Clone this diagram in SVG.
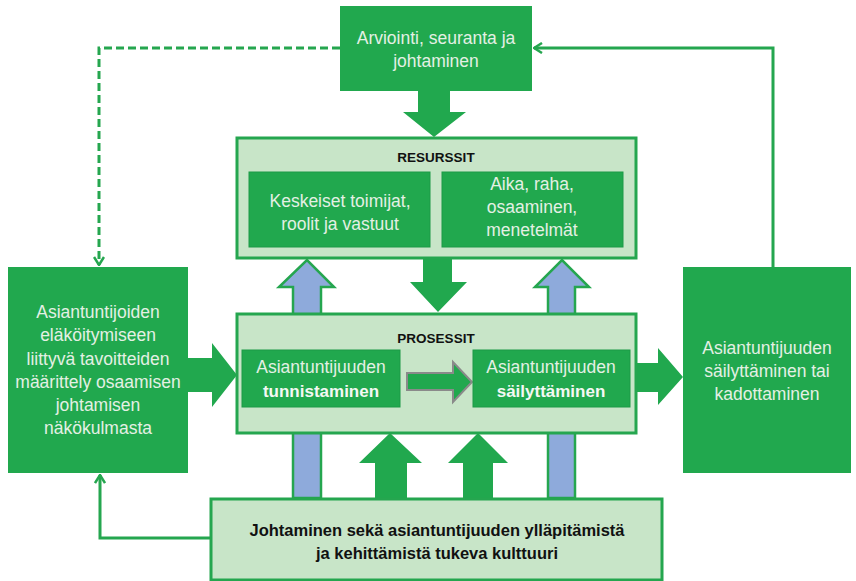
<svg xmlns="http://www.w3.org/2000/svg" width="856" height="581" viewBox="0 0 856 581">
<defs>
<style>
.dk{fill:#21a84e;}
.lt{fill:#c8e5c8;stroke:#25a64f;stroke-width:3;}
.inner{fill:#21a84e;stroke:#1c9a46;stroke-width:1;}
.wt{font-family:"Liberation Sans",Arial,sans-serif;font-size:17.5px;fill:#e4f0e4;text-anchor:middle;}
.wb{font-family:"Liberation Sans",Arial,sans-serif;font-size:17px;font-weight:bold;fill:#f4f8f4;text-anchor:middle;}
.ttl{font-family:"Liberation Sans",Arial,sans-serif;font-size:13.5px;font-weight:bold;fill:#111;text-anchor:middle;}
.bt{font-family:"Liberation Sans",Arial,sans-serif;font-size:16.5px;font-weight:bold;fill:#111;text-anchor:middle;}
.ga{fill:#21a84e;}
.ba{fill:#8eaadb;stroke:#25a64f;stroke-width:2.5;}
.ln{fill:none;stroke:#25a64f;stroke-width:3;}
</style>
<marker id="chev" viewBox="0 0 10 12" refX="9" refY="6" markerWidth="10" markerHeight="12" markerUnits="userSpaceOnUse" orient="auto">
<path d="M1,1 L9,6 L1,11" fill="none" stroke="#25a64f" stroke-width="2.5"/>
</marker>
</defs>
<rect width="856" height="581" fill="#ffffff"/>

<g id="connectors">
<path class="ln" d="M773,267 L773,48 L534,48" marker-end="url(#chev)"/>
<path class="ln" d="M340,48 L99,48 L99,265" stroke-dasharray="8 4" marker-end="url(#chev)"/>
<path class="ln" d="M210,538 L100,538 L100,475" marker-end="url(#chev)"/>
<polygon class="ba" points="293,498 293,287 279,287 307,260 334,287 321,287 321,498"/>
<polygon class="ba" points="548,498 548,287 535,287 562,260 589,287 575,287 575,498"/>
<polygon class="ga" points="418,90 450,90 450,112 466,112 434,137 403,112 418,112"/>
<polygon class="ga" points="423,258 452,258 452,282 467,282 438,312 410,282 423,282"/>
<polygon class="ga" points="188,358 212,358 212,343 237,375 212,407 212,392 188,392"/>
<polygon class="ga" points="637,363 658,363 658,348 683,377 658,405 658,392 637,392"/>
<polygon class="ga" points="375,499 375,463 359,463 390,433 422,463 407,463 407,499"/>
<polygon class="ga" points="463,499 463,463 448,463 478,433 508,463 493,463 493,499"/>
</g>

<g id="arviointi">
<rect class="dk" x="340" y="6" width="192" height="85"/>
<text class="wt" x="436" y="44">Arviointi, seuranta ja</text>
<text class="wt" x="436" y="67">johtaminen</text>
</g>

<g id="resurssit">
<rect class="lt" x="237" y="138" width="399" height="120"/>
<text class="ttl" x="436" y="162">RESURSSIT</text>
</g>
<g id="toimijat">
<rect class="inner" x="249" y="172" width="181" height="75"/>
<text class="wt" x="340" y="207">Keskeiset toimijat,</text>
<text class="wt" x="340" y="230">roolit ja vastuut</text>
</g>
<g id="aika">
<rect class="inner" x="442" y="172" width="181" height="75"/>
<text class="wt" x="532" y="190">Aika, raha,</text>
<text class="wt" x="532" y="213">osaaminen,</text>
<text class="wt" x="532" y="236">menetelmät</text>
</g>

<g id="prosessit">
<rect class="lt" x="237" y="314" width="399" height="119"/>
<text class="ttl" x="436" y="343">PROSESSIT</text>
</g>
<g id="tunnistaminen">
<rect class="inner" x="242" y="350" width="158" height="57"/>
<text class="wt" x="321" y="373">Asiantuntijuuden</text>
<text class="wb" x="321" y="397">tunnistaminen</text>
</g>
<g id="process-arrow">
<polygon points="407,373 453,373 453,362 472,382 453,402 453,390 407,390" fill="#21a84e" stroke="#8a8a8a" stroke-width="2"/>
</g>
<g id="sailyttaminen">
<rect class="inner" x="473" y="350" width="157" height="57"/>
<text class="wt" x="551" y="373">Asiantuntijuuden</text>
<text class="wb" x="551" y="397">säilyttäminen</text>
</g>

<g id="tavoitteet">
<rect class="dk" x="8" y="267" width="180" height="206"/>
<text class="wt" x="98" y="318">Asiantuntijoiden</text>
<text class="wt" x="98" y="341">eläköitymiseen</text>
<text class="wt" x="98" y="365">liittyvä tavoitteiden</text>
<text class="wt" x="98" y="388">määrittely osaamisen</text>
<text class="wt" x="98" y="411">johtamisen</text>
<text class="wt" x="98" y="434">näkökulmasta</text>
</g>

<g id="tulos">
<rect class="dk" x="683" y="267" width="168" height="206"/>
<text class="wt" x="767" y="354">Asiantuntijuuden</text>
<text class="wt" x="767" y="377">säilyttäminen tai</text>
<text class="wt" x="767" y="400">kadottaminen</text>
</g>

<g id="kulttuuri">
<rect class="lt" x="211" y="499" width="451" height="81"/>
<text class="bt" x="437" y="536">Johtaminen sekä asiantuntijuuden ylläpitämistä</text>
<text class="bt" x="437" y="559">ja kehittämistä tukeva kulttuuri</text>
</g>
</svg>
